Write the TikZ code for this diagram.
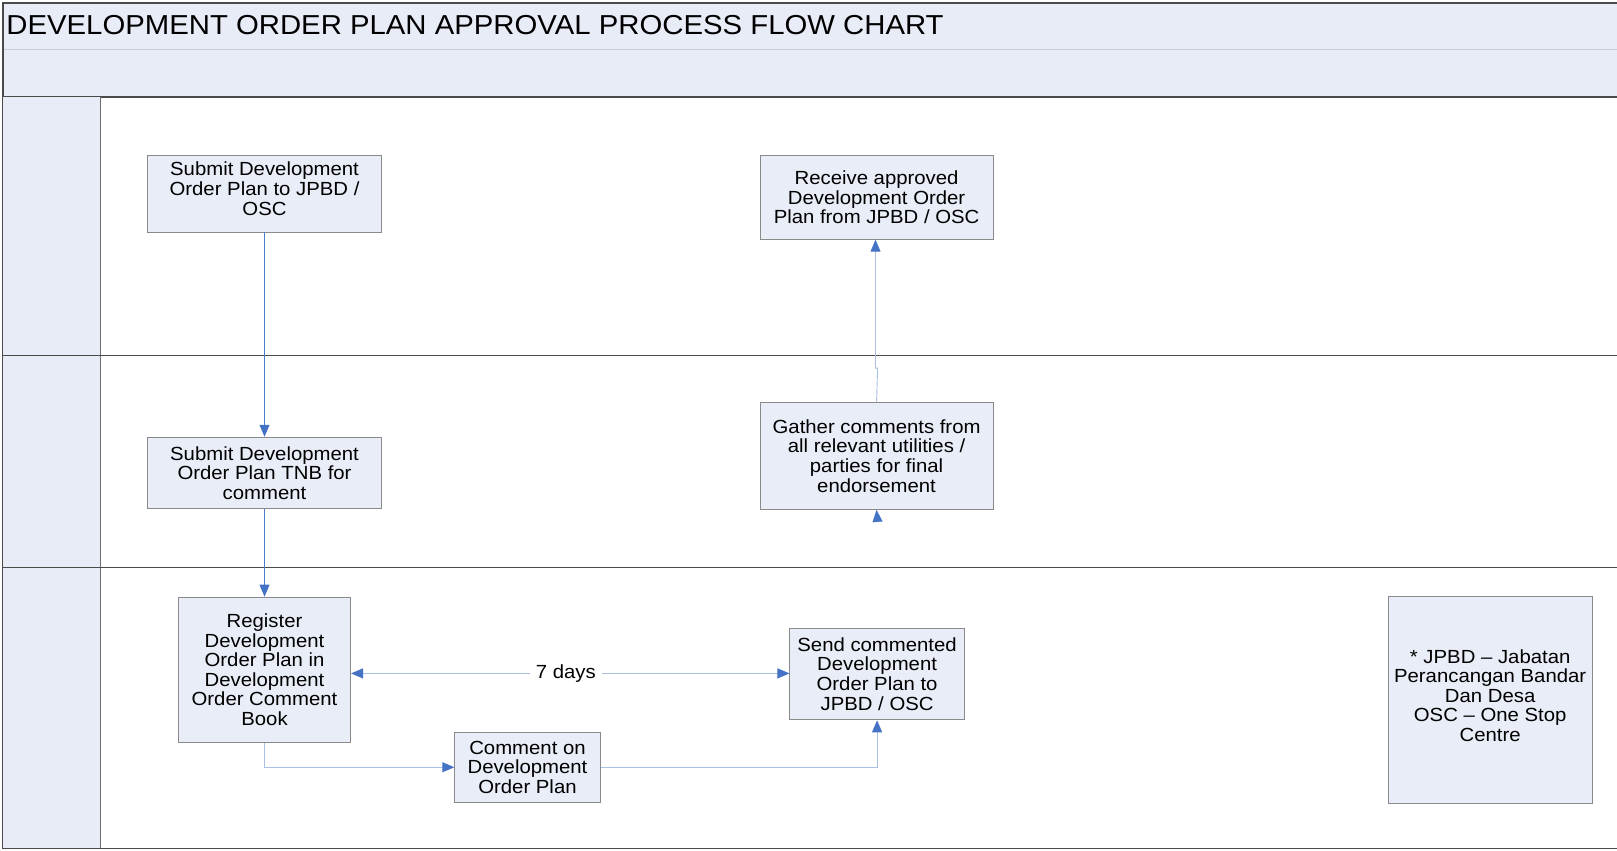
\documentclass[tikz,border=0pt]{standalone}
\usepackage{fontspec}
\setmainfont{Liberation Sans}[FakeStretch=1.07]
\usetikzlibrary{arrows.meta}
\definecolor{hdrfill}{HTML}{E8ECF7}
\definecolor{boxfill}{HTML}{E9EDF7}
\definecolor{boxline}{HTML}{8A8A8A}
\definecolor{frameline}{HTML}{4A4A4A}
\definecolor{sepline}{HTML}{C8CCD6}
\definecolor{darkconn}{HTML}{4A7CC8}
\definecolor{lightconn}{HTML}{A9C0E2}
\definecolor{tipblue}{HTML}{4472C4}
\tikzset{
  procbox/.style={draw=boxline, line width=0.9pt, fill=boxfill, align=center,
    font=\fontsize{19}{19.6}\selectfont, inner sep=0pt},
  tip/.style={-{Triangle[length=12pt,width=10pt,fill=tipblue,color=tipblue]}},
  bitip/.style={{Triangle[length=12pt,width=10pt,fill=tipblue,color=tipblue]}-{Triangle[length=12pt,width=10pt,fill=tipblue,color=tipblue]}},
  darkc/.style={draw=darkconn, line width=0.9pt},
  lightc/.style={draw=lightconn, line width=0.9pt},
}
\begin{document}
\begin{tikzpicture}[x=1.03125pt,y=-1.03125pt]
\useasboundingbox (0,0) rectangle (1568,824.25);
% header
\fill[hdrfill] (3,3) rectangle (1568,94);
\draw[sepline, line width=1pt] (3,48) -- (1568,48);
\draw[frameline, line width=1.5pt] (1568,3) -- (3,3) -- (3,823);
\draw[frameline, line width=1.3pt] (3,94) -- (1568,94);
\node[anchor=west, font=\fontsize{27.4}{29}\selectfont, inner sep=0pt] (title) at (6,24) {DEVELOPMENT ORDER PLAN APPROVAL PROCESS FLOW CHART};
% lanes
\fill[hdrfill] (3,94) rectangle (97,823);
\draw[frameline!80, line width=1pt] (97,94) -- (97,823);
\draw[frameline, line width=1.2pt] (3,345) -- (1568,345);
\draw[frameline, line width=1.2pt] (3,550) -- (1568,550);
\draw[frameline, line width=1.5pt] (3,823) -- (1568,823);
% boxes
\node[procbox, minimum width=234pt, minimum height=76.3pt] (A) at (256.5,188)
  {Submit Development\\Order Plan to JPBD /\\OSC\\[-9pt]\mbox{}};
\node[procbox, minimum width=233pt, minimum height=83.5pt] (B) at (850,191.5)
  {Receive approved\\Development Order\\Plan from JPBD / OSC};
\node[procbox, minimum width=234pt, minimum height=71.2pt] (C) at (256.5,458.5)
  {Submit Development\\Order Plan TNB for\\comment};
\node[procbox, minimum width=233pt, minimum height=107.3pt] (D) at (850,442)
  {Gather comments from\\all relevant utilities /\\parties for final\\endorsement};
\node[procbox, minimum width=172.2pt, minimum height=145.4pt] (E) at (256.5,649.5)
  {Register\\Development\\Order Plan in\\Development\\Order Comment\\Book};
\node[procbox, minimum width=174.3pt, minimum height=91.8pt] (F) at (850.5,653.5)
  {Send commented\\Development\\Order Plan to\\JPBD / OSC};
\node[procbox, minimum width=145.4pt, minimum height=70.1pt] (G) at (511.5,744)
  {Comment on\\Development\\Order Plan};
\node[procbox, minimum width=204.2pt, minimum height=207.3pt] (H) at (1445,678.5)
  {* JPBD -- Jabatan\\Perancangan Bandar\\Dan Desa\\OSC -- One Stop\\Centre\\[-11pt]\mbox{}};
% connectors
\draw[darkc, tip] (A.south) -- (C.north);
\draw[darkc, tip] (C.south) -- (E.north);
\draw[lightc, bitip] (E.east |- 0,653) -- node[fill=white, inner xsep=6pt, inner ysep=1pt, font=\fontsize{19}{19.6}\selectfont, pos=0.49] (days) {7 days} (F.west |- 0,653);
\draw[lightc, tip] (E.south) |- (G.west);
\draw[lightc, tip] (G.east) -| (F.south);
\draw[lightc, tip] (D.north) -- (851,357) -- (849,357) -- (B.south -| 849,0);
\coordinate (dtail) at (851,507);
\draw[white, line width=0.1pt, tip] (dtail) -- (D.south);
\end{tikzpicture}
\end{document}
